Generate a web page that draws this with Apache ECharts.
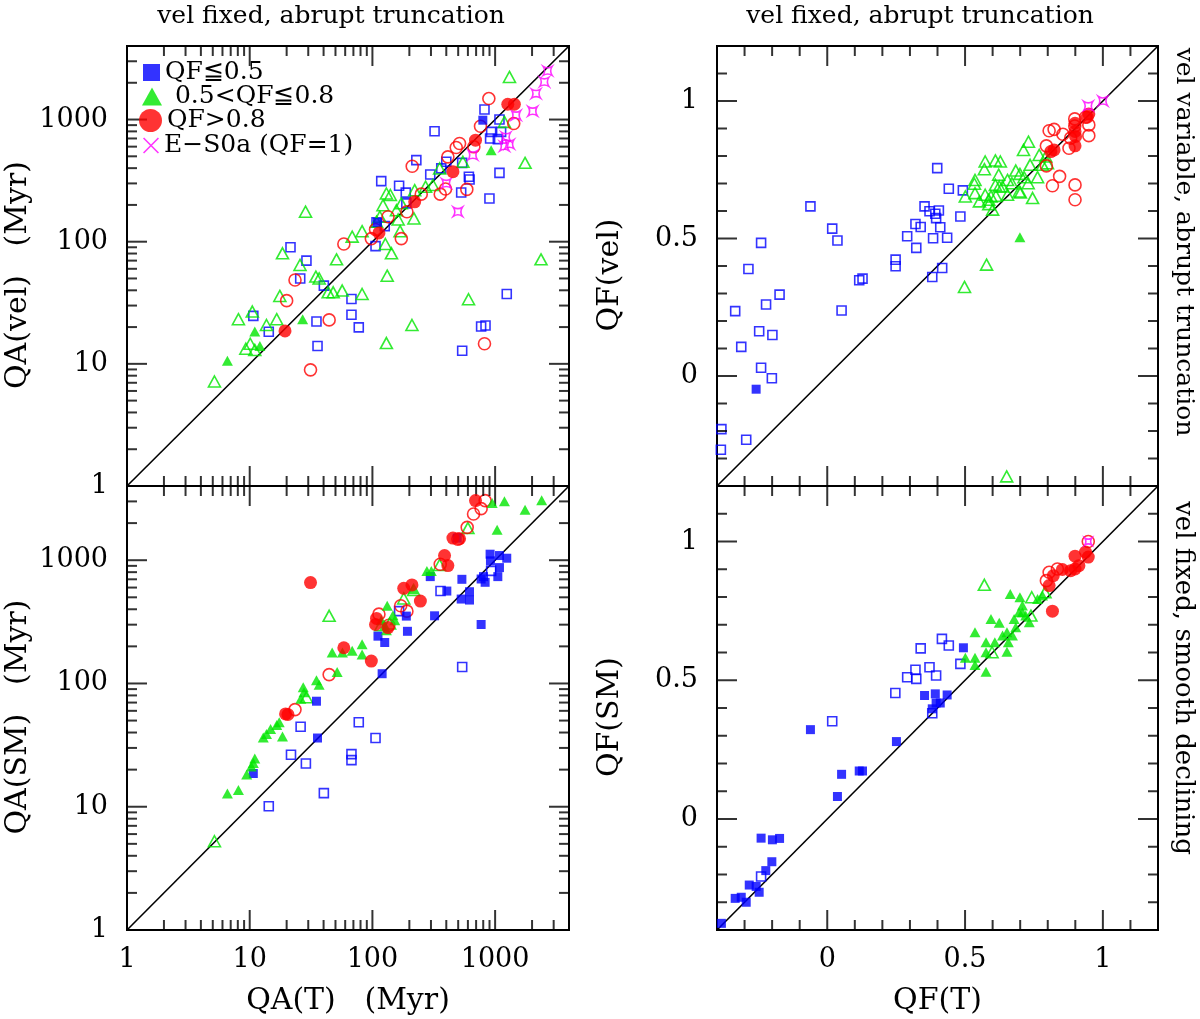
<!DOCTYPE html>
<html>
<head>
<meta charset="utf-8">
<script src="https://cdn.jsdelivr.net/npm/echarts@6/dist/echarts.min.js"></script>
<style>html,body{margin:0;padding:0;background:#fff}#c{width:1200px;height:1019px}</style>
</head>
<body>
<div id="c"></div>
<script>
// ---------- axis ranges & ticks ----------
const QA_RANGE = [1, 4000];
const QF_RANGE = [-0.4, 1.2];
const qaMajorTicks = [1, 10, 100, 1000];
const qaMinorTicks = [2,3,4,5,6,7,8,9,20,30,40,50,60,70,80,90,200,300,400,500,600,700,800,900,2000,3000];
const qfMajorTicks = [0, 0.5, 1];
const qfMinorTicks = [-0.3,-0.2,-0.1,0.1,0.2,0.3,0.4,0.6,0.7,0.8,0.9,1.1];

// ---------- Panel A: QA(T) vs QA(vel) ----------
const aBlueOpen = [[819,1207],[1085,1000],[928,793],[1119,793],[910,699],[1052,691],[321,803],[228,465],[1085,366],[899,226],[529,253],[611,340],[619,323],[539,442],[400,451],[364,398],[296,355],[118,313],[165,287],[187,252],[189,206],[108,144],[126,134],[106,92],[21.5,90],[29,70],[25.8,50],[40.2,43.7],[67.5,34],[67.5,25.2],[77.4,19.9],[35,22.2],[35.7,14],[10.7,24.7],[14.3,18.3],[769,20.2],[835,20.6],[539,12.8],[1244,37.3]];
const aBlueFilled = [[794,988],[110,144]];
const aGreenOpen = [[1309,2233],[1754,442],[2366,71.7],[607,33.8],[210,20.8],[130,14.8],[28.5,176],[18.5,80.3],[25.7,64.5],[34.6,51.8],[36.8,50],[51,71.7],[68.4,110],[82.4,122],[17.6,36],[43.6,38.5],[47.9,38.5],[56.7,39.8],[82.4,37.3],[8.09,23.2],[10.5,26.8],[13.7,20.8],[16.6,23.2],[10.1,14.6],[9.3,13.3],[11,13],[5.16,7.17],[127.5,95.7],[143,80.3],[132,52.7],[168,122],[218,155],[130,248],[140,241],[157,181],[115,160],[162,152],[221,264],[311,291],[353,398],[546,451],[1191,957],[108,146],[122,199],[172,206],[271,282]];
const aGreenFilled = [[928,561],[11,18.4],[6.58,10.6],[27,23.2],[12.1,14]];
const aRedOpen = [[889,1485],[760,882],[1418,927],[513,636],[482,590],[412,495],[671,598],[211,415],[588,268],[357,245],[394,270],[250,245],[191,176],[134,160],[172,106],[98,106],[106,126],[58.5,95.7],[23.4,48.6],[20,32.9],[44.4,22.9],[31.3,8.93],[819,14.6]];
const aRedFilled = [[1268,1334],[1435,1334],[692,678],[453,374],[221,212],[113,118],[19.4,18.6]];
const aMagenta = [[2679,2500],[2518,2032],[2154,1632],[2024,1170],[1482,1085],[1228,722],[1191,605],[1309,629],[658,511],[400,300],[497,176]];

// ---------- Panel B: QF(T) vs QF(vel) ----------
const bBlueOpen = [[0.399,0.756],[0.441,0.681],[0.492,0.675],[-0.061,0.617],[0.353,0.617],[0.371,0.599],[0.405,0.602],[0.392,0.590],[0.395,0.574],[0.483,0.580],[0.018,0.536],[0.037,0.493],[0.320,0.553],[0.339,0.542],[0.410,0.541],[0.290,0.508],[0.384,0.501],[0.435,0.503],[0.323,0.466],[0.248,0.423],[0.248,0.399],[0.116,0.348],[0.128,0.354],[0.381,0.360],[0.417,0.393],[-0.240,0.484],[-0.286,0.389],[-0.173,0.296],[-0.222,0.260],[-0.334,0.236],[0.052,0.238],[-0.247,0.163],[-0.199,0.149],[-0.312,0.106],[-0.240,0.030],[-0.201,-0.008],[-0.384,-0.193],[-0.294,-0.232],[-0.386,-0.268]];
const bBlueFilled = [[-0.258,-0.048]];
const bGreenOpen = [[0.730,0.852],[0.712,0.822],[0.769,0.804],[0.573,0.780],[0.610,0.784],[0.628,0.780],[0.570,0.752],[0.736,0.768],[0.781,0.768],[0.684,0.747],[0.699,0.735],[0.714,0.723],[0.622,0.732],[0.536,0.713],[0.763,0.723],[0.654,0.713],[0.670,0.701],[0.729,0.701],[0.534,0.699],[0.610,0.695],[0.636,0.689],[0.536,0.665],[0.501,0.653],[0.573,0.659],[0.594,0.653],[0.612,0.655],[0.586,0.641],[0.552,0.635],[0.586,0.625],[0.600,0.605],[0.654,0.659],[0.696,0.671],[0.745,0.647],[0.701,0.667],[0.578,0.405],[0.498,0.324],[0.651,-0.365],[0.793,0.798],[0.799,0.774],[0.624,0.689]];
const bGreenFilled = [[0.699,0.505]];
const bRedOpen = [[0.805,0.892],[0.823,0.897],[0.855,0.879],[0.898,0.935],[0.898,0.909],[0.949,0.913],[0.949,0.874],[0.795,0.837],[0.795,0.764],[0.843,0.726],[0.817,0.692],[0.899,0.695],[0.899,0.641],[0.877,0.828],[0.883,0.865],[0.937,0.941]];
const bRedFilled = [[0.949,0.953],[0.943,0.941],[0.899,0.919],[0.899,0.889],[0.899,0.837],[0.823,0.822],[0.811,0.816],[0.901,0.871]];
const bMagenta = [[0.947,0.982],[1.0,1.0]];

// ---------- Panel C: QA(T) vs QA(SM) ----------
const cBlueOpen = [[928,819],[359,562],[165,386],[539,136],[26,44.6],[77.4,48.4],[106,36.1],[21.7,26.4],[28.7,22.4],[67.5,26.7],[67.5,23.9],[40.2,12.9],[14.3,10.1]];
const cBlueFilled = [[910,1119],[1085,1091],[1244,1038],[916,988],[1085,871],[804,736],[1052,736],[829,662],[769,704],[296,736],[536,700],[404,562],[618,555],[529,484],[618,475],[321,354],[189,352],[193,265],[769,301],[111,242],[126,215],[120,120],[35,71.8],[35.7,36.1],[10.7,18.6],[491,1512]];
const cGreenOpen = [[600,1823],[353,916],[217,573],[180,490],[44.4,354],[29,77.4],[5.16,5.25],[138,306],[117,297]];
const cGreenFilled = [[946,2915],[1191,3008],[2395,3064],[1754,2571],[1038,1767],[278,819],[302,819],[214,580],[132,427],[147,358],[152,326],[126,297],[82.4,208],[68.4,184],[82.4,172],[47,178],[57,178],[51.6,124],[35,106],[36.8,97.5],[27.3,93.3],[27.7,85],[26.1,75],[17.4,48.4],[16.6,46],[14.8,42.7],[13.7,38.9],[12.9,36.5],[18.5,37.2],[11,24.6],[10.7,22.6],[10.3,21.2],[9.45,18.3],[6.58,12.8],[8.09,13.7],[118,326],[130,270]];
const cRedOpen = [[829,3046],[769,2620],[667,2371],[592,1847],[497,1483],[357,928],[170,427],[191,386],[113,365],[136,297],[44.4,118],[23.4,61.4]];
const cRedFilled = [[692,3046],[31.3,658],[453,1512],[513,1493],[387,1091],[412,905],[180,591],[210,630],[246,466],[58.5,195],[98,152],[108,337],[106,301],[134,284],[19.6,56.6],[20.5,56]];

// ---------- Panel D: QF(T) vs QF(SM) ----------
const dBlueOpen = [[0.416,0.649],[0.441,0.625],[0.339,0.615],[0.371,0.547],[0.320,0.538],[0.395,0.517],[0.290,0.511],[0.323,0.505],[0.483,0.559],[0.247,0.454],[0.018,0.352],[0.381,0.381],[-0.240,-0.207]];
const dBlueFilled = [[-0.384,-0.376],[-0.334,-0.286],[-0.312,-0.282],[-0.294,-0.300],[-0.283,-0.238],[-0.258,-0.243],[-0.247,-0.264],[-0.223,-0.186],[-0.201,-0.154],[-0.240,-0.069],[-0.199,-0.075],[-0.173,-0.070],[0.037,0.081],[0.052,0.161],[0.116,0.173],[0.128,0.173],[-0.061,0.322],[0.251,0.279],[0.353,0.445],[0.392,0.451],[0.435,0.447],[0.395,0.418],[0.410,0.418],[0.381,0.397],[0.494,0.617]];
const dGreenOpen = [[0.570,0.844],[0.742,0.799],[0.739,0.733],[0.598,0.601],[0.790,0.817]];
const dGreenFilled = [[0.664,0.811],[0.699,0.799],[0.594,0.721],[0.624,0.707],[0.536,0.673],[0.652,0.673],[0.684,0.691],[0.576,0.637],[0.608,0.637],[0.657,0.637],[0.652,0.603],[0.576,0.601],[0.501,0.581],[0.536,0.581],[0.536,0.555],[0.576,0.531],[0.708,0.769],[0.696,0.745],[0.720,0.733],[0.733,0.709],[0.678,0.721],[0.763,0.793],[0.781,0.805],[0.708,0.745],[0.672,0.661],[0.636,0.661]];
const dRedOpen = [[0.805,0.889],[0.835,0.901],[0.795,0.859],[0.947,1.0]];
const dRedFilled = [[0.817,0.749],[0.805,0.841],[0.820,0.877],[0.899,0.947],[0.899,0.901],[0.937,0.962],[0.947,0.944],[0.853,0.899],[0.913,0.913],[0.883,0.895]];
const dMagenta = [[0.947,1.0]];

// ---------- styling ----------
const FONT = 'DejaVu Serif';
const BLUE = '#0000ff', GREEN = '#00e600', RED = '#ff0000', MAG = '#ff00ff';
const STAR = 'path://M0,0 Q5,3.2 10,0 Q6.8,5 10,10 Q5,6.8 0,10 Q3.2,5 0,0 Z';
const CROSS = 'path://M0,0.7 L0.7,0 L10,9.3 L9.3,10 Z M9.3,0 L10,0.7 L0.7,10 L0,9.3 Z';

function open(c){ return {color:'rgba(0,0,0,0)', borderColor:c, borderWidth:1.6}; }
function fill(c){ return {color:c}; }
function sc(name, data, g, symbol, size, style, z){
  return {type:'scatter', name, data, xAxisIndex:g, yAxisIndex:g, symbol, symbolSize:size,
          itemStyle:style, silent:true, z: z||2};
}
function diag(g, r){
  return {type:'line', data:[[r[0],r[0]],[r[1],r[1]]], xAxisIndex:g, yAxisIndex:g,
          symbol:'none', lineStyle:{color:'#000', width:1.6}, silent:true, z:1};
}
function fmt(list){
  return function(v){
    const m = list.find(t => Math.abs(v - t) < 1e-6 * Math.max(1, Math.abs(t)));
    return m === undefined ? '' : String(m);
  };
}
function axis(gridIndex, isLog, labelled, name, isY){
  const r = isLog ? QA_RANGE : QF_RANGE;
  const majors = isLog ? qaMajorTicks : qfMajorTicks;
  const a = {gridIndex, type: isLog ? 'log' : 'value', min:r[0], max:r[1],
    axisLine:{show:false, onZero:false}, splitLine:{show:false},
    axisTick:{show:false}, minorTick:{show:false},
    axisLabel:{show:labelled, customValues:majors, formatter:fmt(majors),
               fontFamily:FONT, fontSize:27, color:'#000', margin: isY ? 19 : 16}};
  if (name) {
    a.name = name; a.nameLocation = 'middle';
    a.nameTextStyle = {fontFamily:FONT, fontSize:30, color:'#000', verticalAlign:'middle',
                       padding: isY ? [0, 18, 0, 0] : 0};
    a.nameGap = isY ? (isLog ? 109 : 107) : 71;
  }
  return a;
}

const rects = [
  {left:127, top:46, width:442, height:440},
  {left:717, top:46, width:441, height:440},
  {left:127, top:486, width:442, height:444},
  {left:717, top:486, width:441, height:444}
];
const isLogPanel = [true, false, true, false];
const xNames = [null, null, 'QA(T)   (Myr)', 'QF(T)'];
const yNames = ['QA(vel)   (Myr)', 'QF(vel)', 'QA(SM)   (Myr)', 'QF(SM)'];

// value lying a given number of pixels inside the range edge (log-aware), used to centre tick bars
function inset(isLog, r, px, sizePx, fromMax){
  if (isLog) {
    const L0 = Math.log10(r[0]), L1 = Math.log10(r[1]), d = (L1 - L0) * px / sizePx;
    return Math.pow(10, fromMax ? L1 - d : L0 + d);
  }
  const d = (r[1] - r[0]) * px / sizePx;
  return fromMax ? r[1] - d : r[0] + d;
}
// inward tick bars on all four sides of a panel, placed through the panel's axes
function tickSeries(g){
  const lg = isLogPanel[g], r = lg ? QA_RANGE : QF_RANGE, rc = rects[g];
  const majors = lg ? qaMajorTicks : qfMajorTicks, minors = lg ? qaMinorTicks : qfMinorTicks;
  const data = [];
  [[majors, 20], [minors, 10]].forEach(([list, len]) => {
    const yb = inset(lg, r, len / 2, rc.height, false), yt = inset(lg, r, len / 2, rc.height, true);
    const xl = inset(lg, r, len / 2, rc.width, false), xr = inset(lg, r, len / 2, rc.width, true);
    list.forEach(v => {
      data.push({value:[v, yb], symbolSize:[2, len]});
      data.push({value:[v, yt], symbolSize:[2, len]});
      data.push({value:[xl, v], symbolSize:[len, 2]});
      data.push({value:[xr, v], symbolSize:[len, 2]});
    });
  });
  return {type:'scatter', xAxisIndex:g, yAxisIndex:g, silent:true, z:3, symbol:'rect',
          itemStyle:{color:'#000'}, data};
}

const grids = rects.map(rc => Object.assign({show:true, borderColor:'#000', borderWidth:2,
  backgroundColor:'rgba(0,0,0,0)'}, rc));
const xAxes = rects.map((rc, g) => axis(g, isLogPanel[g], g >= 2, xNames[g], false));
const yAxes = rects.map((rc, g) => axis(g, isLogPanel[g], true, yNames[g], true));

const legendBase = {orient:'vertical', padding:0, selectedMode:false,
  textStyle:{fontFamily:FONT, fontSize:25, color:'#000', lineHeight:24}};

const option = {
  animation:false,
  backgroundColor:'#fff',
  textStyle:{fontFamily:FONT},
  grid: grids,
  xAxis: xAxes,
  yAxis: yAxes,
  legend:[
    Object.assign({left:143, top:60, itemWidth:17, itemHeight:17,
      data:[{name:'QF≦0.5', icon:'rect', itemStyle:{color:BLUE, borderWidth:0}}]}, legendBase),
    Object.assign({left:142, top:84, itemWidth:20, itemHeight:18,
      data:[{name:' 0.5<QF≦0.8', icon:'triangle', itemStyle:{color:GREEN, borderWidth:0}}]}, legendBase),
    Object.assign({left:139, top:108, itemWidth:23, itemHeight:23,
      data:[{name:'QF>0.8', icon:'circle', itemStyle:{color:RED, borderWidth:0}}]}, legendBase),
    Object.assign({left:143, top:133, itemWidth:16, itemHeight:16,
      data:[{name:'E−S0a (QF=1)', icon:CROSS, itemStyle:{color:MAG, borderWidth:0}}]}, legendBase)
  ],
  graphic:[
    {type:'text', x:331, y:16, style:{text:'vel fixed, abrupt truncation', font:'25px "DejaVu Serif"', fill:'#000', align:'center', verticalAlign:'middle'}},
    {type:'text', x:920, y:16, style:{text:'vel fixed, abrupt truncation', font:'25px "DejaVu Serif"', fill:'#000', align:'center', verticalAlign:'middle'}},
    {type:'text', x:1183, y:242, rotation:-Math.PI/2, style:{text:'vel variable, abrupt truncation', font:'25px "DejaVu Serif"', fill:'#000', align:'center', verticalAlign:'middle'}},
    {type:'text', x:1183, y:678, rotation:-Math.PI/2, style:{text:'vel fixed, smooth declining', font:'26px "DejaVu Serif"', fill:'#000', align:'center', verticalAlign:'middle'}}
  ],
  series:[
    diag(0, QA_RANGE), diag(1, QF_RANGE), diag(2, QA_RANGE), diag(3, QF_RANGE),
    tickSeries(0), tickSeries(1), tickSeries(2), tickSeries(3),
    // panel A
    sc('A blue open', aBlueOpen, 0, 'rect', 9, open(BLUE)),
    sc('A green open', aGreenOpen, 0, 'triangle', [12,11], open(GREEN)),
    sc('A red open', aRedOpen, 0, 'circle', 12, open(RED)),
    sc('E−S0a (QF=1)', aMagenta, 0, STAR, 9, open(MAG)),
    sc('QF≦0.5', aBlueFilled, 0, 'rect', 9, fill(BLUE), 4),
    sc(' 0.5<QF≦0.8', aGreenFilled, 0, 'triangle', [11,10], fill(GREEN), 4),
    sc('QF>0.8', aRedFilled, 0, 'circle', 13, fill(RED), 4),
    // panel B
    sc('B blue open', bBlueOpen, 1, 'rect', 9, open(BLUE)),
    sc('B green open', bGreenOpen, 1, 'triangle', [12,11], open(GREEN)),
    sc('B red open', bRedOpen, 1, 'circle', 12, open(RED)),
    sc('B magenta', bMagenta, 1, STAR, 9, open(MAG), 5),
    sc('B blue filled', bBlueFilled, 1, 'rect', 9, fill(BLUE), 4),
    sc('B green filled', bGreenFilled, 1, 'triangle', [11,10], fill(GREEN), 4),
    sc('B red filled', bRedFilled, 1, 'circle', 13, fill(RED), 4),
    // panel C
    sc('C blue open', cBlueOpen, 2, 'rect', 9, open(BLUE)),
    sc('C green open', cGreenOpen, 2, 'triangle', [12,11], open(GREEN)),
    sc('C red open', cRedOpen, 2, 'circle', 12, open(RED)),
    sc('C blue filled', cBlueFilled, 2, 'rect', 9, fill(BLUE), 4),
    sc('C green filled', cGreenFilled, 2, 'triangle', [11,10], fill(GREEN), 4),
    sc('C red filled', cRedFilled, 2, 'circle', 13, fill(RED), 4),
    // panel D
    sc('D blue open', dBlueOpen, 3, 'rect', 9, open(BLUE)),
    sc('D green open', dGreenOpen, 3, 'triangle', [12,11], open(GREEN)),
    sc('D red open', dRedOpen, 3, 'circle', 12, open(RED)),
    sc('D magenta', dMagenta, 3, STAR, 7, open(MAG), 5),
    sc('D blue filled', dBlueFilled, 3, 'rect', 9, fill(BLUE), 4),
    sc('D green filled', dGreenFilled, 3, 'triangle', [11,10], fill(GREEN), 4),
    sc('D red filled', dRedFilled, 3, 'circle', 13, fill(RED), 4)
  ]
};
const chart = echarts.init(document.getElementById('c'), null, {renderer:'canvas'});
chart.setOption(option);
</script>
</body>
</html>
